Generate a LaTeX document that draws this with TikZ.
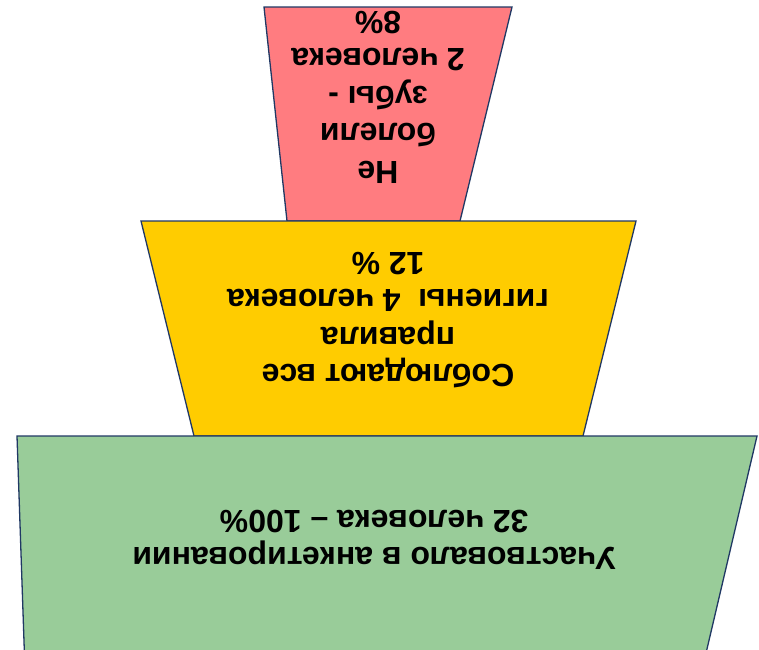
\documentclass[tikz,border=0pt]{standalone}
\usepackage{fontspec}
\setmainfont{Liberation Sans}
\usetikzlibrary{positioning}
\definecolor{rimblue}{HTML}{203864}
\definecolor{topred}{HTML}{FF7C80}
\definecolor{midgold}{HTML}{FFCC00}
\definecolor{basegreen}{HTML}{99CC99}

\begin{document}
\begin{tikzpicture}[x=1pt,y=-1pt]
\tikzset{
  tier/.style={draw=rimblue, line width=1.3pt, line join=miter},
  lbl/.style={rotate=180, align=center, inner sep=0pt,
    font=\bfseries\fontsize{32}{37.5}\selectfont}
}
\useasboundingbox (0,0) rectangle (759,649);
\clip (0,0) rectangle (759,649);

% upside-down funnel, from top to bottom
\filldraw[tier, fill=topred] (264,7) -- (512,7) -- (460,221) -- (287,221) -- cycle;
\filldraw[tier, fill=midgold] (141,221) -- (636,221) -- (583,436) -- (194,436) -- cycle;
\filldraw[tier, fill=basegreen] (17,436) -- (757,436) -- (695,700) -- (26,700) -- cycle;

\node[lbl] (sick) at (378,97) {Не\\болели\\зубы -\\2 человека\\8\%};
\node[lbl] (rules) at (388,320) {Соблюдают все\\правила\\гигиены\ \ 4 человека\\12 \%};
\node[lbl] (total) at (374,540) {Участвовало в анкетировании\\32 человека – 100\%};
\end{tikzpicture}
\end{document}
